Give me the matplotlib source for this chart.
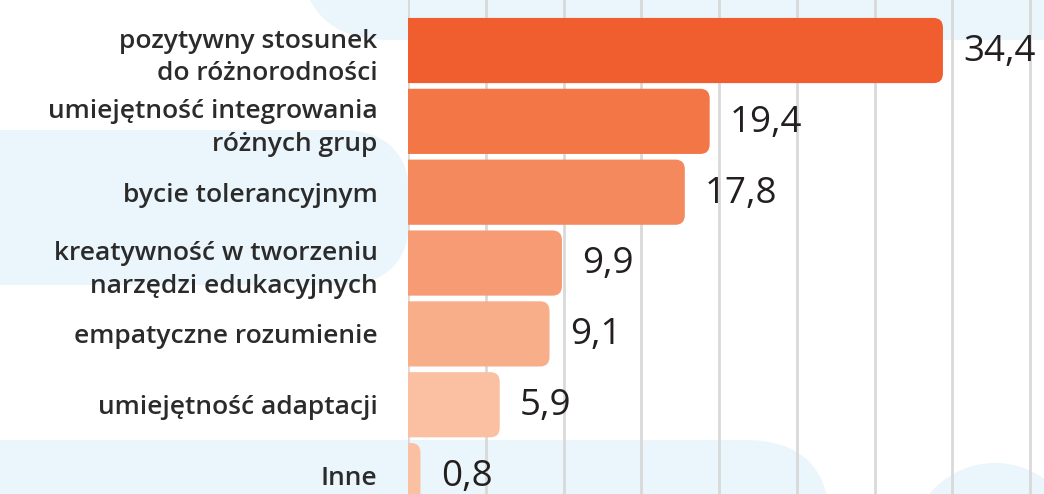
import matplotlib.pyplot as plt
from matplotlib.patches import FancyBboxPatch, Circle

# Data
categories = [
    "pozytywny stosunek\ndo różnorodności",
    "umiejętność integrowania\nróżnych grup",
    "bycie tolerancyjnym",
    "kreatywność w tworzeniu\nnarzędzi edukacyjnych",
    "empatyczne rozumienie",
    "umiejętność adaptacji",
    "Inne",
]
values = [34.4, 19.4, 17.8, 9.9, 9.1, 5.9, 0.8]
value_labels = ["34,4", "19,4", "17,8", "9,9", "9,1", "5,9", "0,8"]
colors = ["#F05D2E", "#F27646", "#F4895D", "#F69B73", "#F8AE89", "#FAC0A1", "#FAC0A1"]

plt.rcParams['font.family'] = ['Open Sans', 'DejaVu Sans']

fig = plt.figure(figsize=(10.44, 4.94), dpi=100)

# background blobs (decoration) on a full-figure axes in pixel units
bg = fig.add_axes([0, 0, 1, 1], zorder=0)
bg.set_xlim(0, 1044)
bg.set_ylim(494, 0)
bg.axis("off")
blob = "#EAF6FB"
bg.add_patch(FancyBboxPatch((300, -300), 900, 340, boxstyle="round,pad=0,rounding_size=90",
                            fc=blob, ec="none"))
bg.add_patch(FancyBboxPatch((-100, 130), 510, 155, boxstyle="round,pad=0,rounding_size=70",
                            fc=blob, ec="none"))
bg.add_patch(FancyBboxPatch((-100, 440), 930, 200, boxstyle="round,pad=0,rounding_size=85",
                            fc=blob, ec="none"))
bg.add_patch(Circle((995, 548), 85, fc=blob, ec="none"))

ax = fig.add_axes([408 / 1044, 0, 1 - 408 / 1044, 1], zorder=1)
ax.patch.set_alpha(0)

# bars with slightly rounded right corners (left corners hidden past x=0)
h = 0.92
for i, v in enumerate(values):
    bar = FancyBboxPatch((-1, i - h / 2), v + 1, h,
                         boxstyle="round,pad=0,rounding_size=0.6",
                         mutation_aspect=0.226, fc=colors[i], ec="none", zorder=3)
    ax.add_patch(bar)

ax.set_xlim(0, 40.9)
ax.set_ylim(6.26, -0.713)
ax.set_xticks(range(0, 41, 5))
ax.grid(axis="x", color="#D9D9D9", linewidth=2, zorder=0)
ax.set_axisbelow(True)
ax.tick_params(axis="x", length=0, labelbottom=False)
for s in ax.spines.values():
    s.set_visible(False)

ax.set_yticks(list(range(len(values))))
ax.set_yticklabels(categories, fontsize=19, fontweight="semibold", color="#2B2B2B",
                   linespacing=1.4)
ax.tick_params(axis="y", length=0, pad=22)

for i, v in enumerate(values):
    ax.text(v + 1.3, i + 0.02, value_labels[i], va="center", ha="left",
            fontsize=26.5, color="#231F20", zorder=4)

fig.savefig("out.png", dpi=100)
